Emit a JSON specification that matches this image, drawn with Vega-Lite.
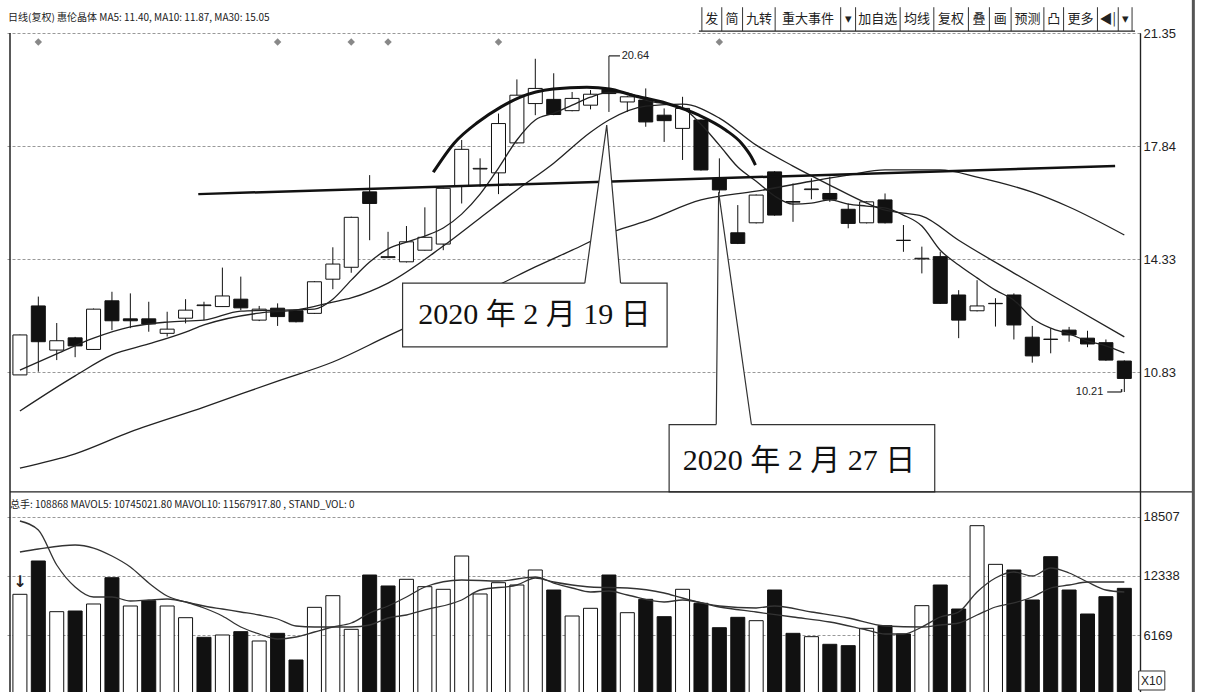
{
"$schema": "https://vega.github.io/schema/vega-lite/v6.json",
"width": 1135, "height": 659,
"autosize": {"type": "none"},
"padding": {"left": 5, "right": 66, "top": 33, "bottom": 0},
"background": "#ffffff",
"config": {"view": {"stroke": null}, "axis": {"labelFont": "Liberation Sans", "labelFontSize": 13, "labelColor": "#222", "domainColor": "#222", "domainWidth": 1.2, "ticks": false, "labelPadding": 3, "gridColor": "#999", "gridDash": [3, 2], "gridWidth": 1}},
"datasets": {
"k": [
{"i":0,"o":10.74,"h":11.99,"l":10.74,"c":11.98,"d":"u"},
{"i":1,"o":12.88,"h":13.17,"l":10.84,"c":11.77,"d":"d"},
{"i":2,"o":11.51,"h":12.35,"l":11.20,"c":11.80,"d":"u"},
{"i":3,"o":11.89,"h":11.92,"l":11.29,"c":11.64,"d":"d"},
{"i":4,"o":11.53,"h":12.80,"l":11.52,"c":12.78,"d":"u"},
{"i":5,"o":13.04,"h":13.32,"l":12.13,"c":12.42,"d":"d"},
{"i":6,"o":12.48,"h":13.27,"l":12.19,"c":12.42,"d":"d"},
{"i":7,"o":12.48,"h":13.01,"l":12.08,"c":12.32,"d":"d"},
{"i":8,"o":12.03,"h":12.70,"l":11.93,"c":12.16,"d":"u"},
{"i":9,"o":12.50,"h":13.09,"l":12.34,"c":12.75,"d":"u"},
{"i":10,"o":12.89,"h":13.01,"l":12.44,"c":12.91,"d":"u"},
{"i":11,"o":12.86,"h":14.07,"l":12.86,"c":13.19,"d":"u"},
{"i":12,"o":13.09,"h":13.79,"l":12.75,"c":12.82,"d":"d"},
{"i":13,"o":12.44,"h":12.88,"l":12.41,"c":12.78,"d":"u"},
{"i":14,"o":12.81,"h":12.96,"l":12.26,"c":12.55,"d":"d"},
{"i":15,"o":12.73,"h":12.75,"l":12.37,"c":12.39,"d":"d"},
{"i":16,"o":12.65,"h":13.65,"l":12.63,"c":13.63,"d":"u"},
{"i":17,"o":13.71,"h":14.70,"l":13.40,"c":14.18,"d":"u"},
{"i":18,"o":14.08,"h":15.65,"l":13.91,"c":15.63,"d":"u"},
{"i":19,"o":16.42,"h":16.94,"l":14.92,"c":16.06,"d":"d"},
{"i":20,"o":14.38,"h":15.18,"l":14.37,"c":14.41,"d":"u"},
{"i":21,"o":14.25,"h":15.36,"l":14.23,"c":14.87,"d":"u"},
{"i":22,"o":14.61,"h":15.94,"l":14.60,"c":15.01,"d":"u"},
{"i":23,"o":14.80,"h":16.55,"l":14.61,"c":16.53,"d":"u"},
{"i":24,"o":16.60,"h":18.03,"l":16.06,"c":17.74,"d":"u"},
{"i":25,"o":17.13,"h":17.46,"l":16.58,"c":17.15,"d":"u"},
{"i":26,"o":17.01,"h":18.85,"l":16.35,"c":18.54,"d":"u"},
{"i":27,"o":17.94,"h":19.91,"l":17.92,"c":19.42,"d":"u"},
{"i":28,"o":19.16,"h":20.55,"l":18.80,"c":19.63,"d":"u"},
{"i":29,"o":19.29,"h":20.10,"l":18.80,"c":18.82,"d":"d"},
{"i":30,"o":18.94,"h":19.52,"l":18.92,"c":19.32,"d":"u"},
{"i":31,"o":19.11,"h":19.58,"l":18.98,"c":19.45,"d":"u"},
{"i":32,"o":19.60,"h":20.64,"l":18.90,"c":19.47,"d":"d"},
{"i":33,"o":19.21,"h":19.40,"l":18.90,"c":19.37,"d":"u"},
{"i":34,"o":19.27,"h":19.63,"l":18.44,"c":18.59,"d":"d"},
{"i":35,"o":18.80,"h":19.01,"l":17.97,"c":18.63,"d":"d"},
{"i":36,"o":18.39,"h":19.37,"l":17.41,"c":19.01,"d":"u"},
{"i":37,"o":18.65,"h":18.67,"l":17.08,"c":17.10,"d":"d"},
{"i":38,"o":16.84,"h":17.46,"l":16.37,"c":16.48,"d":"d"},
{"i":39,"o":15.15,"h":16.01,"l":14.80,"c":14.82,"d":"d"},
{"i":40,"o":15.46,"h":16.34,"l":15.44,"c":16.32,"d":"u"},
{"i":41,"o":17.04,"h":17.06,"l":15.68,"c":15.70,"d":"d"},
{"i":42,"o":16.10,"h":16.68,"l":15.49,"c":16.12,"d":"u"},
{"i":43,"o":16.49,"h":16.84,"l":16.19,"c":16.51,"d":"u"},
{"i":44,"o":16.37,"h":16.89,"l":16.11,"c":16.19,"d":"d"},
{"i":45,"o":15.88,"h":16.06,"l":15.29,"c":15.44,"d":"d"},
{"i":46,"o":15.46,"h":16.13,"l":15.44,"c":16.11,"d":"u"},
{"i":47,"o":16.17,"h":16.37,"l":15.44,"c":15.46,"d":"d"},
{"i":48,"o":14.91,"h":15.39,"l":14.56,"c":14.92,"d":"u"},
{"i":49,"o":14.34,"h":14.72,"l":13.89,"c":14.36,"d":"u"},
{"i":50,"o":14.41,"h":14.56,"l":12.94,"c":12.96,"d":"d"},
{"i":51,"o":13.22,"h":13.37,"l":11.88,"c":12.44,"d":"d"},
{"i":52,"o":12.73,"h":13.68,"l":12.71,"c":12.88,"d":"u"},
{"i":53,"o":12.95,"h":13.12,"l":12.24,"c":12.96,"d":"u"},
{"i":54,"o":13.22,"h":13.27,"l":11.84,"c":12.29,"d":"d"},
{"i":55,"o":11.91,"h":12.26,"l":11.12,"c":11.33,"d":"d"},
{"i":56,"o":11.84,"h":12.19,"l":11.41,"c":11.85,"d":"u"},
{"i":57,"o":12.13,"h":12.23,"l":11.77,"c":11.98,"d":"d"},
{"i":58,"o":11.88,"h":12.11,"l":11.60,"c":11.70,"d":"d"},
{"i":59,"o":11.74,"h":11.84,"l":11.18,"c":11.20,"d":"d"},
{"i":60,"o":11.17,"h":11.19,"l":10.21,"c":10.63,"d":"d"}
],
"ma": [
{"s":"MA30","i":0,"p":7.85},{"s":"MA30","i":3,"p":8.29},{"s":"MA30","i":6,"p":8.97},{"s":"MA30","i":10,"p":9.74},{"s":"MA30","i":14,"p":10.55},{"s":"MA30","i":17,"p":11.14},{"s":"MA30","i":20,"p":11.95},{"s":"MA30","i":23,"p":12.75},{"s":"MA30","i":26,"p":13.53},{"s":"MA30","i":28,"p":14.09},{"s":"MA30","i":30,"p":14.61},{"s":"MA30","i":32,"p":15.14},{"s":"MA30","i":34,"p":15.51},{"s":"MA30","i":37,"p":16.17},{"s":"MA30","i":40,"p":16.44},{"s":"MA30","i":43,"p":16.75},{"s":"MA30","i":45,"p":16.94},{"s":"MA30","i":47,"p":17.10},{"s":"MA30","i":50,"p":17.10},{"s":"MA30","i":52,"p":16.88},{"s":"MA30","i":55,"p":16.41},{"s":"MA30","i":57,"p":15.95},{"s":"MA30","i":60,"p":15.08},
{"s":"MA10","i":0,"p":9.62},{"s":"MA10","i":3,"p":10.71},{"s":"MA10","i":5,"p":11.36},{"s":"MA10","i":7,"p":11.70},{"s":"MA10","i":9,"p":12.07},{"s":"MA10","i":10,"p":12.29},{"s":"MA10","i":13,"p":12.66},{"s":"MA10","i":15,"p":12.75},{"s":"MA10","i":17,"p":13.00},{"s":"MA10","i":18,"p":13.13},{"s":"MA10","i":20,"p":13.59},{"s":"MA10","i":23,"p":14.74},{"s":"MA10","i":25,"p":15.61},{"s":"MA10","i":27,"p":16.48},{"s":"MA10","i":29,"p":17.31},{"s":"MA10","i":31,"p":18.27},{"s":"MA10","i":32,"p":18.65},{"s":"MA10","i":34,"p":19.08},{"s":"MA10","i":36,"p":19.14},{"s":"MA10","i":38,"p":18.71},{"s":"MA10","i":40,"p":17.87},{"s":"MA10","i":42,"p":17.22},{"s":"MA10","i":44,"p":16.63},{"s":"MA10","i":46,"p":16.07},{"s":"MA10","i":47,"p":15.85},{"s":"MA10","i":48,"p":15.76},{"s":"MA10","i":49,"p":15.67},{"s":"MA10","i":51,"p":14.92},{"s":"MA10","i":54,"p":13.90},{"s":"MA10","i":57,"p":12.91},{"s":"MA10","i":60,"p":11.92},
{"s":"MA5","i":0,"p":10.89},{"s":"MA5","i":2,"p":11.39},{"s":"MA5","i":4,"p":11.88},{"s":"MA5","i":6,"p":12.23},{"s":"MA5","i":8,"p":12.38},{"s":"MA5","i":10,"p":12.44},{"s":"MA5","i":12,"p":12.72},{"s":"MA5","i":14,"p":12.75},{"s":"MA5","i":16,"p":12.78},{"s":"MA5","i":17,"p":13.09},{"s":"MA5","i":18,"p":13.68},{"s":"MA5","i":19,"p":14.24},{"s":"MA5","i":20,"p":14.65},{"s":"MA5","i":21,"p":14.86},{"s":"MA5","i":22,"p":15.05},{"s":"MA5","i":23,"p":15.30},{"s":"MA5","i":24,"p":15.73},{"s":"MA5","i":25,"p":16.35},{"s":"MA5","i":26,"p":17.16},{"s":"MA5","i":27,"p":18.03},{"s":"MA5","i":28,"p":18.65},{"s":"MA5","i":29,"p":18.86},{"s":"MA5","i":30,"p":19.11},{"s":"MA5","i":31,"p":19.36},{"s":"MA5","i":32,"p":19.51},{"s":"MA5","i":33,"p":19.48},{"s":"MA5","i":34,"p":19.27},{"s":"MA5","i":36,"p":19.02},{"s":"MA5","i":37,"p":18.52},{"s":"MA5","i":38,"p":17.87},{"s":"MA5","i":39,"p":17.19},{"s":"MA5","i":40,"p":16.75},{"s":"MA5","i":41,"p":16.29},{"s":"MA5","i":42,"p":16.04},{"s":"MA5","i":43,"p":16.07},{"s":"MA5","i":44,"p":16.17},{"s":"MA5","i":45,"p":16.04},{"s":"MA5","i":46,"p":15.98},{"s":"MA5","i":47,"p":15.92},{"s":"MA5","i":48,"p":15.70},{"s":"MA5","i":49,"p":15.36},{"s":"MA5","i":50,"p":14.61},{"s":"MA5","i":51,"p":14.15},{"s":"MA5","i":52,"p":13.75},{"s":"MA5","i":53,"p":13.37},{"s":"MA5","i":54,"p":13.06},{"s":"MA5","i":55,"p":12.50},{"s":"MA5","i":56,"p":12.19},{"s":"MA5","i":57,"p":12.01},{"s":"MA5","i":58,"p":11.79},{"s":"MA5","i":59,"p":11.64},{"s":"MA5","i":60,"p":11.42}
],
"vol": [
{"i":0,"v":10424,"d":"u"},{"i":1,"v":13888,"d":"d"},{"i":2,"v":8615,"d":"u"},{"i":3,"v":8686,"d":"d"},{"i":4,"v":9415,"d":"u"},{"i":5,"v":12152,"d":"d"},{"i":6,"v":9207,"d":"u"},{"i":7,"v":9762,"d":"d"},{"i":8,"v":9207,"d":"u"},{"i":9,"v":7990,"d":"u"},{"i":10,"v":5950,"d":"d"},{"i":11,"v":6190,"d":"u"},{"i":12,"v":6536,"d":"d"},{"i":13,"v":5566,"d":"u"},{"i":14,"v":6363,"d":"d"},{"i":15,"v":3589,"d":"d"},{"i":16,"v":9068,"d":"u"},{"i":17,"v":10280,"d":"u"},{"i":18,"v":6780,"d":"u"},{"i":19,"v":12430,"d":"d"},{"i":20,"v":11290,"d":"d"},{"i":21,"v":11983,"d":"u"},{"i":22,"v":11216,"d":"u"},{"i":23,"v":10944,"d":"u"},{"i":24,"v":14408,"d":"u"},{"i":25,"v":10455,"d":"u"},{"i":26,"v":11631,"d":"u"},{"i":27,"v":11391,"d":"u"},{"i":28,"v":12952,"d":"u"},{"i":29,"v":10871,"d":"d"},{"i":30,"v":8166,"d":"u"},{"i":31,"v":8967,"d":"u"},{"i":32,"v":12431,"d":"d"},{"i":33,"v":8510,"d":"u"},{"i":34,"v":9903,"d":"d"},{"i":35,"v":8097,"d":"d"},{"i":36,"v":10944,"d":"u"},{"i":37,"v":9487,"d":"d"},{"i":38,"v":6950,"d":"d"},{"i":39,"v":8027,"d":"d"},{"i":40,"v":7680,"d":"u"},{"i":41,"v":10871,"d":"d"},{"i":42,"v":6363,"d":"d"},{"i":43,"v":6016,"d":"u"},{"i":44,"v":5221,"d":"d"},{"i":45,"v":5080,"d":"d"},{"i":46,"v":6883,"d":"u"},{"i":47,"v":7160,"d":"d"},{"i":48,"v":6294,"d":"d"},{"i":49,"v":9242,"d":"u"},{"i":50,"v":11391,"d":"d"},{"i":51,"v":8894,"d":"d"},{"i":52,"v":17563,"d":"u"},{"i":53,"v":13540,"d":"u"},{"i":54,"v":12952,"d":"d"},{"i":55,"v":9831,"d":"d"},{"i":56,"v":14338,"d":"d"},{"i":57,"v":10871,"d":"d"},{"i":58,"v":8374,"d":"d"},{"i":59,"v":10177,"d":"d"},{"i":60,"v":11044,"d":"d"}
],
"mavol": [
{"s":"MAVOL5","i":0,"v":18049},{"s":"MAVOL5","i":1,"v":17113},{"s":"MAVOL5","i":2,"v":13472},{"s":"MAVOL5","i":3,"v":11183},{"s":"MAVOL5","i":4,"v":10143},{"s":"MAVOL5","i":5,"v":10143},{"s":"MAVOL5","i":6,"v":9727},{"s":"MAVOL5","i":7,"v":9831},{"s":"MAVOL5","i":8,"v":9935},{"s":"MAVOL5","i":9,"v":9623},{"s":"MAVOL5","i":10,"v":8999},{"s":"MAVOL5","i":11,"v":8166},{"s":"MAVOL5","i":12,"v":7022},{"s":"MAVOL5","i":13,"v":6294},{"s":"MAVOL5","i":14,"v":5774},{"s":"MAVOL5","i":15,"v":5982},{"s":"MAVOL5","i":16,"v":6502},{"s":"MAVOL5","i":17,"v":7022},{"s":"MAVOL5","i":18,"v":7438},{"s":"MAVOL5","i":19,"v":8478},{"s":"MAVOL5","i":20,"v":9207},{"s":"MAVOL5","i":21,"v":10143},{"s":"MAVOL5","i":22,"v":11183},{"s":"MAVOL5","i":24,"v":11911},{"s":"MAVOL5","i":26,"v":11807},{"s":"MAVOL5","i":28,"v":12224},{"s":"MAVOL5","i":29,"v":11599},{"s":"MAVOL5","i":30,"v":11079},{"s":"MAVOL5","i":31,"v":10663},{"s":"MAVOL5","i":32,"v":10767},{"s":"MAVOL5","i":33,"v":10351},{"s":"MAVOL5","i":35,"v":9623},{"s":"MAVOL5","i":36,"v":9831},{"s":"MAVOL5","i":38,"v":9103},{"s":"MAVOL5","i":40,"v":8582},{"s":"MAVOL5","i":42,"v":8062},{"s":"MAVOL5","i":44,"v":7542},{"s":"MAVOL5","i":46,"v":6710},{"s":"MAVOL5","i":47,"v":6294},{"s":"MAVOL5","i":48,"v":6294},{"s":"MAVOL5","i":49,"v":7022},{"s":"MAVOL5","i":50,"v":8062},{"s":"MAVOL5","i":51,"v":8582},{"s":"MAVOL5","i":52,"v":10663},{"s":"MAVOL5","i":53,"v":12119},{"s":"MAVOL5","i":54,"v":12744},{"s":"MAVOL5","i":55,"v":12328},{"s":"MAVOL5","i":56,"v":13160},{"s":"MAVOL5","i":57,"v":12640},{"s":"MAVOL5","i":58,"v":11703},{"s":"MAVOL5","i":59,"v":10871},{"s":"MAVOL5","i":60,"v":10663},
{"s":"MAVOL10","i":0,"v":14824},{"s":"MAVOL10","i":1,"v":15136},{"s":"MAVOL10","i":3,"v":15552},{"s":"MAVOL10","i":4,"v":15240},{"s":"MAVOL10","i":5,"v":14408},{"s":"MAVOL10","i":6,"v":13264},{"s":"MAVOL10","i":7,"v":11599},{"s":"MAVOL10","i":8,"v":10247},{"s":"MAVOL10","i":9,"v":9623},{"s":"MAVOL10","i":10,"v":9207},{"s":"MAVOL10","i":11,"v":8895},{"s":"MAVOL10","i":12,"v":8582},{"s":"MAVOL10","i":13,"v":8270},{"s":"MAVOL10","i":14,"v":7854},{"s":"MAVOL10","i":15,"v":7126},{"s":"MAVOL10","i":16,"v":7022},{"s":"MAVOL10","i":18,"v":7022},{"s":"MAVOL10","i":19,"v":7230},{"s":"MAVOL10","i":20,"v":7958},{"s":"MAVOL10","i":21,"v":8270},{"s":"MAVOL10","i":22,"v":8791},{"s":"MAVOL10","i":24,"v":9831},{"s":"MAVOL10","i":25,"v":10871},{"s":"MAVOL10","i":27,"v":11391},{"s":"MAVOL10","i":28,"v":12119},{"s":"MAVOL10","i":29,"v":11703},{"s":"MAVOL10","i":30,"v":11391},{"s":"MAVOL10","i":31,"v":11183},{"s":"MAVOL10","i":33,"v":11079},{"s":"MAVOL10","i":35,"v":10559},{"s":"MAVOL10","i":36,"v":10039},{"s":"MAVOL10","i":38,"v":9207},{"s":"MAVOL10","i":40,"v":8999},{"s":"MAVOL10","i":41,"v":9207},{"s":"MAVOL10","i":43,"v":8582},{"s":"MAVOL10","i":45,"v":7958},{"s":"MAVOL10","i":47,"v":7126},{"s":"MAVOL10","i":49,"v":7022},{"s":"MAVOL10","i":50,"v":7230},{"s":"MAVOL10","i":51,"v":7438},{"s":"MAVOL10","i":52,"v":8270},{"s":"MAVOL10","i":53,"v":9103},{"s":"MAVOL10","i":54,"v":9519},{"s":"MAVOL10","i":55,"v":10143},{"s":"MAVOL10","i":56,"v":11079},{"s":"MAVOL10","i":57,"v":11391},{"s":"MAVOL10","i":58,"v":11703},{"s":"MAVOL10","i":60,"v":11703}
],
"arc": [
{"i":22.46,"p":17.03},{"i":23.59,"p":17.93},{"i":24.88,"p":18.58},{"i":26.12,"p":19.05},{"i":27.19,"p":19.36},{"i":28.97,"p":19.61},{"i":30.80,"p":19.67},{"i":32.04,"p":19.61},{"i":33.28,"p":19.42},{"i":35.11,"p":19.17},{"i":36.89,"p":18.80},{"i":38.34,"p":18.34},{"i":39.20,"p":17.93},{"i":39.74,"p":17.50},{"i":39.96,"p":17.25}
],
"trend": [{"i":9.69,"p":16.35,"i2":59.50,"p2":17.22}],
"boxes": [{"i":20.79,"i2":35.16,"p":13.59,"p2":11.61},{"i":35.27,"i2":49.70,"p":9.20,"p2":7.11}],
"wedges": [
{"w":"a","i":30.69,"p":13.59,"b":13.54},{"w":"a","i":31.88,"p":18.49,"b":13.54},{"w":"a","i":32.63,"p":13.59,"b":13.54},
{"w":"b","i":37.83,"p":9.20,"b":9.15},{"w":"b","i":37.96,"p":16.41,"b":9.15},{"w":"b","i":39.74,"p":9.20,"b":9.15}
],
"callouts": [{"i":27.95,"p":12.60,"t":"2020 年 2 月 19 日"},{"i":42.33,"p":8.07,"t":"2020 年 2 月 27 日"}],
"marks": [{"i":1,"p":21.07},{"i":14,"p":21.07},{"i":18,"p":21.07},{"i":20,"p":21.07},{"i":26,"p":21.07},{"i":38,"p":21.07}],
"header": [{"i":-0.646,"p":21.81,"t":"日线(复权)  惠伦晶体  MA5: 11.40,  MA10: 11.87,  MA30: 15.05"}],
"toolbar": [
{"i":37.59,"t":"发"},{"i":38.69,"t":"简"},{"i":40.15,"t":"九转"},{"i":42.81,"t":"重大事件"},{"i":44.99,"t":"▾"},{"i":46.61,"t":"加自选"},{"i":48.73,"t":"均线"},{"i":50.59,"t":"复权"},{"i":52.10,"t":"叠"},{"i":53.26,"t":"画"},{"i":54.74,"t":"预测"},{"i":56.17,"t":"凸"},{"i":57.62,"t":"更多"},{"i":59.10,"t":"◀|"},{"i":60.04,"t":"▾"}
],
"toolsep": [{"i":37.05},{"i":38.13},{"i":39.26},{"i":41.03},{"i":44.59},{"i":45.40},{"i":47.82},{"i":49.65},{"i":51.53},{"i":52.67},{"i":53.85},{"i":55.63},{"i":56.70},{"i":58.54},{"i":59.67},{"i":60.42}],
"hsegs": [{"i":36.89,"i2":60.58,"p":21.41},{"i":32.0,"i2":32.6,"p":20.64},{"i":59.07,"i2":59.85,"p":10.21},{"i":-0.5385,"i2":63.7,"p":7.11}],
"vsegs": [{"i":-0.5385,"p":21.35,"p2":0.9},{"i":59.85,"p":10.21,"p2":10.30}],
"frame": [{"i":63.75,"p":22.4,"p2":0.9}],
"hilo": [{"i":32.69,"p":20.64,"t":"20.64"}],
"lolab": [{"i":58.86,"p":10.21,"t":"10.21"}],
"volhead": [{"i":-0.5385,"v":19713,"t":"总手: 108868  MAVOL5: 10745021.80  MAVOL10: 11567917.80 ,  STAND_VOL: 0"}],
"x10": [{"i":60.78,"i2":62.2,"v":468,"v2":2445,"t":"X10","m":61.49,"vm":1450}],
"arrow": [{"i":0,"v":11703,"t":"↓"}]
},
"encoding": {"x": {"field": "i", "type": "quantitative", "scale": {"domain": [-0.5385, 60.58], "nice": false, "zero": false}, "axis": null}},
"layer": [
 {"data": {"name": "k"}, "mark": {"type": "rule", "color": "#111", "strokeWidth": 1},
  "encoding": {"y": {"field": "l", "type": "quantitative", "scale": {"domain": [0.9, 21.35], "nice": false, "zero": false}, "axis": {"orient": "right", "values": [10.83, 14.33, 17.84, 21.35], "format": ".2f", "grid": true, "title": null}}, "y2": {"field": "h"}}},
 {"data": {"name": "vol"}, "mark": {"type": "bar", "width": 14, "stroke": "#111", "strokeWidth": 1, "clip": true},
  "encoding": {"y": {"field": "v", "type": "quantitative", "scale": {"domain": [260, 68816], "nice": false, "zero": false}, "axis": {"orient": "right", "values": [6169, 12338, 18507], "format": "d", "grid": true, "title": null}}, "y2": {"datum": 0},
   "fill": {"field": "d", "type": "nominal", "scale": {"domain": ["u", "d"], "range": ["#ffffff", "#111111"]}, "legend": null}}},
 {"data": {"name": "k"}, "mark": {"type": "bar", "width": 14, "stroke": "#111", "strokeWidth": 1},
  "encoding": {"y": {"field": "o", "type": "quantitative", "scale": {"domain": [0.9, 21.35], "nice": false, "zero": false}, "axis": null}, "y2": {"field": "c"},
   "fill": {"field": "d", "type": "nominal", "scale": {"domain": ["u", "d"], "range": ["#ffffff", "#111111"]}, "legend": null}}},
 {"data": {"name": "ma"}, "mark": {"type": "line", "color": "#222", "strokeWidth": 1.3, "interpolate": "monotone"},
  "encoding": {"y": {"field": "p", "type": "quantitative", "scale": {"domain": [0.9, 21.35], "nice": false, "zero": false}, "axis": null}, "detail": {"field": "s"}}},
 {"data": {"name": "mavol"}, "mark": {"type": "line", "color": "#333", "strokeWidth": 1.3, "interpolate": "monotone"},
  "encoding": {"y": {"field": "v", "type": "quantitative", "scale": {"domain": [260, 68816], "nice": false, "zero": false}, "axis": null}, "detail": {"field": "s"}}},
 {"data": {"name": "marks"}, "mark": {"type": "point", "shape": "diamond", "filled": true, "color": "#555", "size": 55},
  "encoding": {"y": {"field": "p", "type": "quantitative", "scale": {"domain": [0.9, 21.35], "nice": false, "zero": false}, "axis": null}}},
 {"data": {"name": "arc"}, "mark": {"type": "line", "color": "#111", "strokeWidth": 3, "interpolate": "monotone"},
  "encoding": {"y": {"field": "p", "type": "quantitative", "scale": {"domain": [0.9, 21.35], "nice": false, "zero": false}, "axis": null}}},
 {"data": {"name": "trend"}, "mark": {"type": "rule", "color": "#111", "strokeWidth": 2.5},
  "encoding": {"y": {"field": "p", "type": "quantitative", "scale": {"domain": [0.9, 21.35], "nice": false, "zero": false}, "axis": null}, "x2": {"field": "i2"}, "y2": {"field": "p2"}}},
 {"data": {"name": "boxes"}, "mark": {"type": "rect", "fill": "#ffffff", "stroke": "#333", "strokeWidth": 1.2},
  "encoding": {"y": {"field": "p", "type": "quantitative", "scale": {"domain": [0.9, 21.35], "nice": false, "zero": false}, "axis": null}, "x2": {"field": "i2"}, "y2": {"field": "p2"}}},
 {"data": {"name": "wedges"}, "mark": {"type": "area", "color": "#ffffff", "opacity": 1},
  "encoding": {"y": {"field": "p", "type": "quantitative", "scale": {"domain": [0.9, 21.35], "nice": false, "zero": false}, "axis": null}, "y2": {"field": "b"}, "detail": {"field": "w"}}},
 {"data": {"name": "wedges"}, "mark": {"type": "line", "color": "#333", "strokeWidth": 1.2},
  "encoding": {"y": {"field": "p", "type": "quantitative", "scale": {"domain": [0.9, 21.35], "nice": false, "zero": false}, "axis": null}, "detail": {"field": "w"}}},
 {"data": {"name": "callouts"}, "mark": {"type": "text", "font": "Liberation Serif, Noto Sans CJK SC", "fontSize": 30, "color": "#111", "align": "center", "baseline": "middle"},
  "encoding": {"y": {"field": "p", "type": "quantitative", "scale": {"domain": [0.9, 21.35], "nice": false, "zero": false}, "axis": null}, "text": {"field": "t"}}},
 {"data": {"name": "header"}, "mark": {"type": "text", "font": "Noto Sans CJK SC", "fontSize": 10, "color": "#222", "align": "left", "baseline": "middle"},
  "encoding": {"y": {"field": "p", "type": "quantitative", "scale": {"domain": [0.9, 21.35], "nice": false, "zero": false}, "axis": null}, "text": {"field": "t"}}},
 {"data": {"name": "toolbar"}, "mark": {"type": "text", "font": "Noto Sans CJK SC", "fontSize": 13, "color": "#222", "align": "center", "baseline": "middle"},
  "encoding": {"y": {"datum": 21.78, "type": "quantitative", "scale": {"domain": [0.9, 21.35], "nice": false, "zero": false}, "axis": null}, "text": {"field": "t"}}},
 {"data": {"name": "toolsep"}, "mark": {"type": "rule", "color": "#333", "strokeWidth": 1},
  "encoding": {"y": {"datum": 22.15, "type": "quantitative", "scale": {"domain": [0.9, 21.35], "nice": false, "zero": false}, "axis": null}, "y2": {"datum": 21.41}}},
 {"data": {"name": "hsegs"}, "mark": {"type": "rule", "color": "#222", "strokeWidth": 1.2},
  "encoding": {"y": {"field": "p", "type": "quantitative", "scale": {"domain": [0.9, 21.35], "nice": false, "zero": false}, "axis": null}, "x2": {"field": "i2"}}},
 {"data": {"name": "vsegs"}, "mark": {"type": "rule", "color": "#222", "strokeWidth": 1.5},
  "encoding": {"y": {"field": "p", "type": "quantitative", "scale": {"domain": [0.9, 21.35], "nice": false, "zero": false}, "axis": null}, "y2": {"field": "p2"}}},
 {"data": {"name": "frame"}, "mark": {"type": "rule", "color": "#555", "strokeWidth": 3},
  "encoding": {"y": {"field": "p", "type": "quantitative", "scale": {"domain": [0.9, 21.35], "nice": false, "zero": false}, "axis": null}, "y2": {"field": "p2"}}},
 {"data": {"name": "hilo"}, "mark": {"type": "text", "font": "Liberation Sans", "fontSize": 11, "color": "#222", "align": "left", "baseline": "middle"},
  "encoding": {"y": {"field": "p", "type": "quantitative", "scale": {"domain": [0.9, 21.35], "nice": false, "zero": false}, "axis": null}, "text": {"field": "t"}}},
 {"data": {"name": "lolab"}, "mark": {"type": "text", "font": "Liberation Sans", "fontSize": 11, "color": "#222", "align": "right", "baseline": "middle"},
  "encoding": {"y": {"field": "p", "type": "quantitative", "scale": {"domain": [0.9, 21.35], "nice": false, "zero": false}, "axis": null}, "text": {"field": "t"}}},
 {"data": {"name": "volhead"}, "mark": {"type": "text", "font": "Noto Sans CJK SC", "fontSize": 10, "color": "#222", "align": "left", "baseline": "middle"},
  "encoding": {"y": {"field": "v", "type": "quantitative", "scale": {"domain": [260, 68816], "nice": false, "zero": false}, "axis": null}, "text": {"field": "t"}}},
 {"data": {"name": "x10"}, "mark": {"type": "rect", "fill": "#ffffff", "stroke": "#333", "strokeWidth": 1},
  "encoding": {"y": {"field": "v", "type": "quantitative", "scale": {"domain": [260, 68816], "nice": false, "zero": false}, "axis": null}, "x2": {"field": "i2"}, "y2": {"field": "v2"}}},
 {"data": {"name": "x10"}, "mark": {"type": "text", "font": "Liberation Sans", "fontSize": 12, "color": "#222", "align": "center", "baseline": "middle"},
  "encoding": {"x": {"field": "m", "type": "quantitative", "scale": {"domain": [-0.5385, 60.58], "nice": false, "zero": false}, "axis": null}, "y": {"field": "vm", "type": "quantitative", "scale": {"domain": [260, 68816], "nice": false, "zero": false}, "axis": null}, "text": {"field": "t"}}},
 {"data": {"name": "arrow"}, "mark": {"type": "text", "font": "DejaVu Sans", "fontSize": 16, "fontWeight": "bold", "color": "#222", "align": "center", "baseline": "middle"},
  "encoding": {"y": {"field": "v", "type": "quantitative", "scale": {"domain": [260, 68816], "nice": false, "zero": false}, "axis": null}, "text": {"field": "t"}}}
],
"resolve": {"scale": {"y": "independent"}, "axis": {"y": "independent"}}
}
